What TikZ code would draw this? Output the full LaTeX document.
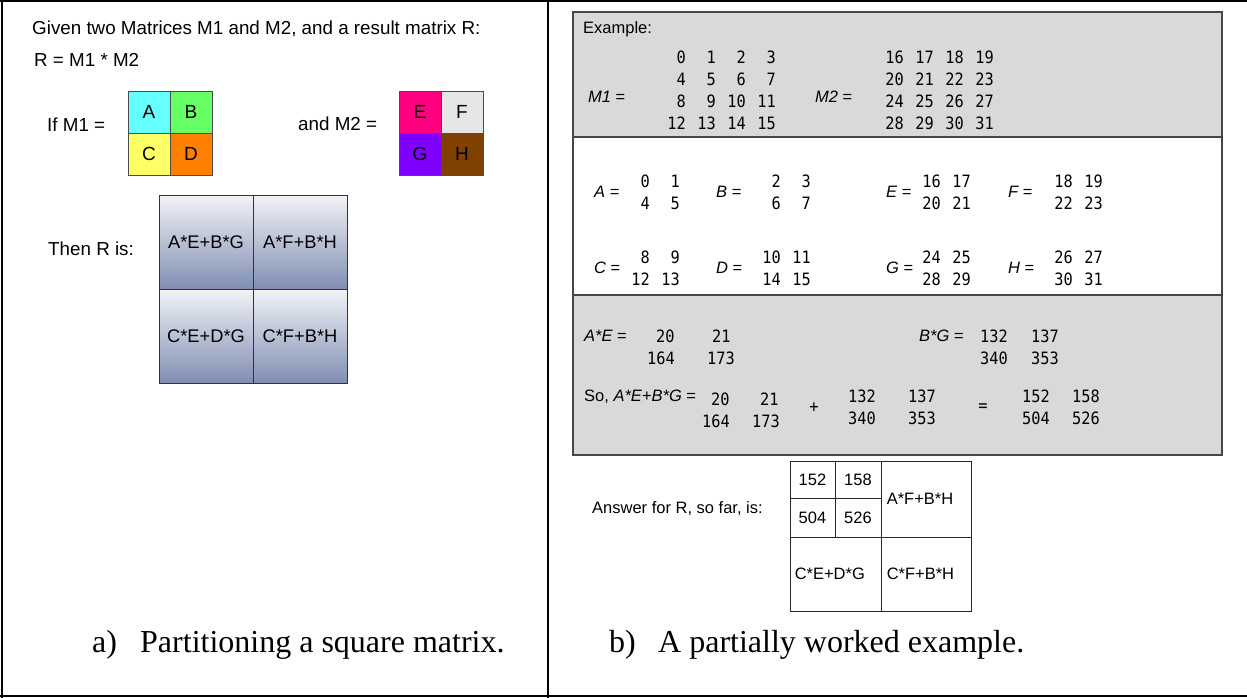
\documentclass[tikz,border=0pt]{standalone}
\usepackage{fontspec}
\setmainfont{Liberation Serif}
\setsansfont{Liberation Sans}
\newfontfamily\monof[FakeStretch=0.9]{DejaVu Sans Mono}
\definecolor{cA}{RGB}{102,255,255}
\definecolor{cB}{RGB}{102,255,102}
\definecolor{cC}{RGB}{255,255,102}
\definecolor{cD}{RGB}{255,128,0}
\definecolor{cE}{RGB}{255,0,128}
\definecolor{cF}{RGB}{230,230,230}
\definecolor{cG}{RGB}{128,0,255}
\definecolor{cH}{RGB}{128,64,0}
\definecolor{gtop}{RGB}{242,243,247}
\definecolor{gbot}{RGB}{128,142,178}
\definecolor{boxgray}{RGB}{217,217,217}
\definecolor{boxline}{RGB}{70,70,70}
\begin{document}
\begin{tikzpicture}[x=1pt,y=-1pt,
  sf/.style={font=\sffamily\fontsize{16.5}{19}\selectfont, inner sep=0pt},
  lsf/.style={font=\sffamily\fontsize{18.8}{21}\selectfont, inner sep=0pt},
  num/.style={font=\monof\fontsize{17}{19}\selectfont, inner sep=0pt},
  captext/.style={font=\rmfamily\fontsize{32}{36}\selectfont, inner sep=0pt},
  qcell/.style={draw=black!70, line width=0.8pt, minimum width=42pt, minimum height=42pt, inner sep=0pt, font=\sffamily\fontsize{19}{21}\selectfont},
  rcell/.style={draw=black!80, line width=0.8pt, top color=gtop, bottom color=gbot, minimum width=94pt, minimum height=94pt, inner sep=0pt, font=\sffamily\fontsize{18.3}{21}\selectfont},
  acell/.style={draw=black!85, line width=0.9pt, inner sep=0pt},
  panel/.style={draw=boxline, line width=1.3pt}
]
\useasboundingbox (0,0) rectangle (1247,698);
% frame
\draw[line width=1.5pt] (0,1) -- (1247,1);
\draw[line width=2pt] (2,0) -- (2,698);
\draw[line width=2pt] (548,0) -- (548,698);
\draw[line width=2pt] (0,696) -- (1247,696);

% ---------- left panel ----------
\node[lsf, anchor=west] (given) at (32,29) {Given two Matrices M1 and M2, and a result matrix R:};
\node[lsf, anchor=west] (req) at (34,60) {R = M1 * M2};
\node[lsf, anchor=west] (ifm1) at (47,125) {If M1 =};
\node[qcell, fill=cA] (A) at (149,112) {A};
\node[qcell, fill=cB] (B) at (191,112) {B};
\node[qcell, fill=cC] (C) at (149,154) {C};
\node[qcell, fill=cD] (D) at (191,154) {D};
\node[lsf, anchor=west] (andm2) at (298,124) {and M2 =};
\node[qcell, fill=cE] (E) at (420,112) {E};
\node[qcell, fill=cF] (F) at (462,112) {F};
\node[qcell, fill=cG] (G) at (420,154) {G};
\node[qcell, fill=cH] (H) at (462,154) {H};
\node[lsf, anchor=west] (thenr) at (48,249) {Then R is:};
\node[rcell] (r11) at (206,242) {A*E+B*G};
\node[rcell] (r12) at (300,242) {A*F+B*H};
\node[rcell] (r21) at (206,336) {C*E+D*G};
\node[rcell] (r22) at (300,336) {C*F+B*H};
\node[captext, anchor=base west] (capa) at (92,652) {a)};
\node[captext, anchor=base west] (capat) at (140,652) {Partitioning a square matrix.};

% ---------- right panel ----------
\draw[panel, fill=boxgray] (573,12) rectangle (1222,137);
\draw[panel, fill=white] (573,137) rectangle (1222,295);
\draw[panel, fill=boxgray] (573,295) rectangle (1222,455);

\node[sf, anchor=west] (exl) at (583,29) {Example:};
\node[sf, anchor=west] (m1l) at (588,97) {\itshape M1\upshape\ =};
\node[sf, anchor=west] (m2l) at (815,97) {\itshape M2\upshape\ =};
% M1 matrix
\foreach \r/\a/\b/\c/\d/\y in {1/0/1/2/3/57, 2/4/5/6/7/79, 3/8/9/10/11/101, 4/12/13/14/15/123}{
  \node[num, anchor=east] (m1a\r) at (686,\y) {\a};
  \node[num, anchor=east] (m1b\r) at (716,\y) {\b};
  \node[num, anchor=east] (m1c\r) at (746,\y) {\c};
  \node[num, anchor=east] (m1d\r) at (776,\y) {\d};
}
\foreach \r/\a/\b/\c/\d/\y in {1/16/17/18/19/57, 2/20/21/22/23/79, 3/24/25/26/27/101, 4/28/29/30/31/123}{
  \node[num, anchor=east] (m2a\r) at (904,\y) {\a};
  \node[num, anchor=east] (m2b\r) at (934,\y) {\b};
  \node[num, anchor=east] (m2c\r) at (964,\y) {\c};
  \node[num, anchor=east] (m2d\r) at (994,\y) {\d};
}
% sub-blocks
\foreach \nm/\lx/\cx/\ly/\pa/\pb/\pc/\pd in {
  A/594/650/192/0/1/4/5, B/716/781/192/2/3/6/7, E/886/941/192/16/17/20/21, F/1008/1073/192/18/19/22/23,
  C/594/650/268/8/9/12/13, D/716/781/268/10/11/14/15, G/886/941/268/24/25/28/29, H/1008/1073/268/26/27/30/31}{
  \node[sf, anchor=west] (lb\nm) at (\lx,\ly) {\itshape\nm\upshape\ =};
  \node[num, anchor=east] (s\nm a) at (\cx,\ly-11) {\pa};
  \node[num, anchor=east] (s\nm b) at (\cx+30,\ly-11) {\pb};
  \node[num, anchor=east] (s\nm c) at (\cx,\ly+11) {\pc};
  \node[num, anchor=east] (s\nm d) at (\cx+30,\ly+11) {\pd};
}
% products
\node[sf, anchor=west] (ae) at (584,336) {\itshape A*E\upshape\ =};
\node[num, anchor=west] (ae1) at (656,336) {20};
\node[num, anchor=west] (ae2) at (712,336) {21};
\node[num, anchor=west] (ae3) at (647,358) {164};
\node[num, anchor=west] (ae4) at (707,358) {173};
\node[sf, anchor=west] (bg) at (919,336) {\itshape B*G\upshape\ =};
\node[num, anchor=west] (bg1) at (980,336) {132};
\node[num, anchor=west] (bg2) at (1031,336) {137};
\node[num, anchor=west] (bg3) at (980,358) {340};
\node[num, anchor=west] (bg4) at (1031,358) {353};
\node[sf, anchor=west] (so) at (584,397) {So, \itshape A*E+B*G\upshape\ =};
\node[num, anchor=west] (s1) at (711,399) {20};
\node[num, anchor=west] (s2) at (760,399) {21};
\node[num, anchor=west] (s3) at (702,421) {164};
\node[num, anchor=west] (s4) at (752,421) {173};
\node[num] (plus) at (814,408) {+};
\node[num, anchor=west] (t1) at (848,396) {132};
\node[num, anchor=west] (t2) at (908,396) {137};
\node[num, anchor=west] (t3) at (848,418) {340};
\node[num, anchor=west] (t4) at (908,418) {353};
\node[num] (eq) at (983,408) {=};
\node[num, anchor=west] (u1) at (1022,396) {152};
\node[num, anchor=west] (u2) at (1072,396) {158};
\node[num, anchor=west] (u3) at (1022,418) {504};
\node[num, anchor=west] (u4) at (1072,418) {526};

% answer grid
\node[sf, anchor=west] (ans) at (592,509) {Answer for R, so far, is:};
\node[acell, minimum width=45pt, minimum height=37pt, font=\sffamily\fontsize{16.5}{19}\selectfont] (q1) at (812.5,479.5) {152};
\node[acell, minimum width=46pt, minimum height=37pt, font=\sffamily\fontsize{16.5}{19}\selectfont] (q2) at (858,479.5) {158};
\node[acell, minimum width=45pt, minimum height=39pt, font=\sffamily\fontsize{16.5}{19}\selectfont] (q3) at (812.5,517.5) {504};
\node[acell, minimum width=46pt, minimum height=39pt, font=\sffamily\fontsize{16.5}{19}\selectfont] (q4) at (858,517.5) {526};
\node[acell, minimum width=90pt, minimum height=76pt] (af) at (926,499) {};
\node[acell, minimum width=91pt, minimum height=74pt] (ce) at (835.5,574) {};
\node[acell, minimum width=90pt, minimum height=74pt] (cf) at (926,574) {};
\node[sf, anchor=west] (aft) at ([xshift=6pt]af.west) {A*F+B*H};
\node[sf, anchor=west] (cet) at ([xshift=5pt]ce.west) {C*E+D*G};
\node[sf, anchor=west] (cft) at ([xshift=6pt]cf.west) {C*F+B*H};

\node[captext, anchor=base west] (capb) at (609,652) {b)};
\node[captext, anchor=base west] (capbt) at (658,652) {A partially worked example.};
\end{tikzpicture}
\end{document}
